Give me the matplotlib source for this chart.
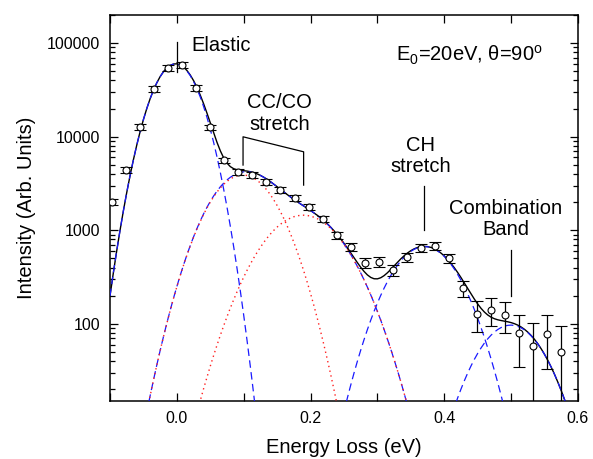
import numpy as np
import matplotlib
matplotlib.use('Agg')
import matplotlib.pyplot as plt
from matplotlib.ticker import LogLocator, NullFormatter, MultipleLocator

plt.rcParams['font.family'] = ['Liberation Sans', 'DejaVu Sans']
plt.rcParams['mathtext.fontset'] = 'custom'
plt.rcParams['mathtext.rm'] = 'Liberation Sans'
plt.rcParams['mathtext.it'] = 'Liberation Sans:italic'

# measured spectrum (energy loss in eV, intensity, error)
energy = [-0.097, -0.076, -0.055, -0.034, -0.013, 0.008, 0.029, 0.050, 0.071, 0.092,
          0.113, 0.134, 0.155, 0.176, 0.197, 0.218, 0.239, 0.260, 0.281, 0.302,
          0.323, 0.344, 0.365, 0.386, 0.407, 0.428, 0.449, 0.470, 0.491, 0.512,
          0.533, 0.554, 0.575]
intensity = [2000, 4400, 12700, 32700, 54300, 59000, 33500, 12600, 5600, 4200,
             3900, 3300, 2700, 2240, 1770, 1320, 890, 665, 450, 460,
             377, 520, 647, 680, 505, 242, 128, 141, 125, 80,
             58, 78, 50]
error = [150, 310, 890, 2290, 3800, 4130, 2345, 880, 395, 297,
         277, 235, 194, 163, 132, 103, 77, 65, 55, 55,
         52, 58, 64, 66, 57, 48, 46, 46, 46, 45,
         45, 45, 45]

# gaussian fit components: height, centre (eV), width (eV)
elastic = (60000, -0.002, 0.029)
ccco_1 = (3900, 0.0985, 0.042)
ccco_2 = (1450, 0.189, 0.051)
ch_str = (670, 0.3705, 0.0423)
comb = (97, 0.4995, 0.042)


def gauss(x, p):
    a, x0, s = p
    return a * np.exp(-(x - x0) ** 2 / (2 * s ** 2))


xx = np.linspace(-0.1, 0.6, 141)
g_el = gauss(xx, elastic)
g_c1 = gauss(xx, ccco_1)
g_c2 = gauss(xx, ccco_2)
g_ch = gauss(xx, ch_str)
g_cb = gauss(xx, comb)
total = g_el + g_c1 + g_c2 + g_ch + g_cb

fig = plt.figure(figsize=(5.93, 4.59), dpi=100)
ax = fig.add_axes([0.1855, 0.1264, 0.7892, 0.841])

blue = '#1a1aff'
red = '#ff2020'
ax.plot(xx, total, color='black', lw=1.0, zorder=2)
for g in (g_el, g_c1 + g_c2, g_ch, g_cb):
    ax.plot(xx, g, color=blue, lw=0.9, dashes=(6, 3.5), zorder=3)
for g in (g_c1, g_c2):
    ax.plot(xx, g, color=red, lw=1.0, dashes=(1, 2.5), zorder=3)

ax.errorbar(energy, intensity, yerr=error, fmt='o', ms=5, mfc='white', mec='black',
            mew=0.8, ecolor='black', elinewidth=0.9, capsize=4, capthick=0.9, zorder=5)

ax.set_yscale('log')
ax.set_xlim(-0.1, 0.6)
ax.set_ylim(15, 2e5)

ax.set_yticks([100, 1000, 10000, 100000])
ax.set_yticklabels(['100', '1000', '10000', '100000'])
ax.yaxis.set_minor_locator(LogLocator(base=10, subs=np.arange(2, 10)))
ax.yaxis.set_minor_formatter(NullFormatter())
ax.set_xticks([0.0, 0.2, 0.4, 0.6])
ax.set_xticklabels(['0.0', '0.2', '0.4', '0.6'])
ax.xaxis.set_minor_locator(MultipleLocator(0.1))

ax.tick_params(which='both', direction='in', top=True, right=True, labelsize=11.5, width=0.9)
ax.tick_params(which='major', length=6, pad=7)
ax.tick_params(axis='y', which='minor', length=3.5)
ax.tick_params(axis='x', which='minor', length=6)
for sp in ax.spines.values():
    sp.set_linewidth(1.1)

ax.set_xlabel('Energy Loss (eV)', fontsize=14.5, labelpad=9)
ax.set_ylabel('Intensity (Arb. Units)', fontsize=14.5, labelpad=8)

# annotations
fs = 14.5
ax.plot([0.0, 0.0], [49300, 103000], color='black', lw=0.9)
ax.text(0.0224, 95000, 'Elastic', fontsize=fs, ha='left', va='center')
ax.plot([0.099, 0.099, 0.1896, 0.1896], [4980, 9980, 6900, 3040], color='black', lw=0.9)
ax.text(0.154, 17700, 'CC/CO\nstretch', fontsize=fs, ha='center', va='center',
        multialignment='center', linespacing=1.15)
ax.plot([0.370, 0.370], [1010, 2970], color='black', lw=0.9)
ax.text(0.365, 6200, 'CH\nstretch', fontsize=fs, ha='center', va='center',
        multialignment='center', linespacing=1.15)
ax.plot([0.5005, 0.5005], [199, 614], color='black', lw=0.9)
ax.text(0.492, 1313, 'Combination\nBand', fontsize=fs, ha='center', va='center',
        multialignment='center', linespacing=1.15)
ax.text(0.328, 74300, r'E$_\mathrm{0}$=20eV, θ=90$^\mathrm{o}$', fontsize=fs,
        ha='left', va='center')

fig.savefig('out.png', dpi=100)
